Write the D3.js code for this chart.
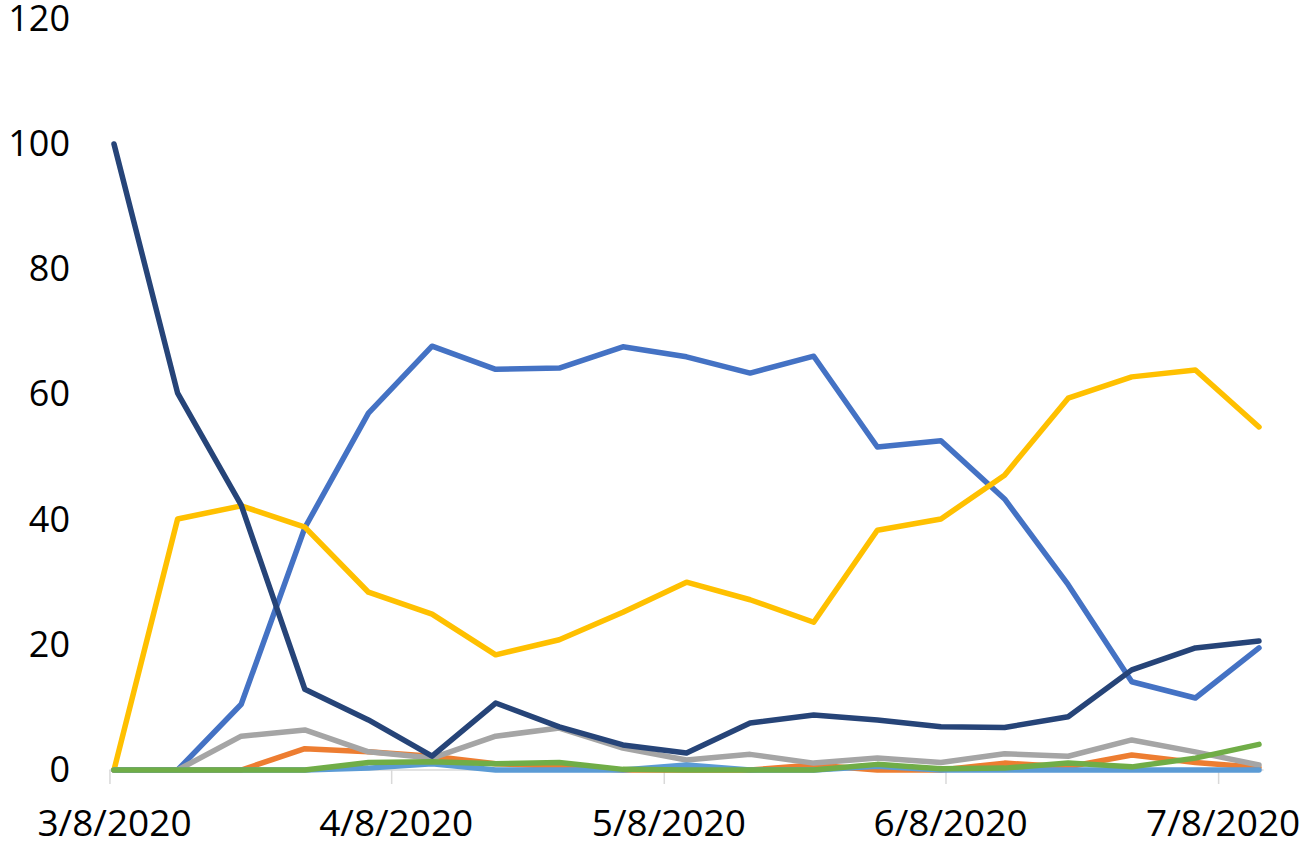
<!DOCTYPE html>
<html>
<head>
<meta charset="utf-8">
<script src="https://cdn.jsdelivr.net/npm/d3@7"></script>
<style>
  html, body { margin: 0; padding: 0; background: #fff; }
  svg { display: block; }
  text { font-family: "Open Sans", "Noto Sans", sans-serif; }
</style>
</head>
<body>
<svg id="chart" width="1307" height="851"></svg>
<script>
// ---- data ----
const dates = ["2020-03-08","2020-03-15","2020-03-22","2020-03-29","2020-04-05","2020-04-12","2020-04-19",
  "2020-04-26","2020-05-03","2020-05-10","2020-05-17","2020-05-24","2020-05-31","2020-06-07",
  "2020-06-14","2020-06-21","2020-06-28","2020-07-05","2020-07-12"];
const seriesBlue      = [0, 0, 10.5, 38.7, 57.0, 67.7, 64.0, 64.2, 67.6, 66.0, 63.4, 66.1, 51.6, 52.6, 43.3, 29.6, 14.1, 11.5, 19.5];
const seriesOrange    = [0, 0, 0, 3.4, 2.9, 2.2, 1.0, 0.6, 0, 0, 0, 0.8, 0, 0, 1.1, 0.5, 2.4, 1.2, 0.4];
const seriesGray      = [0, 0, 5.4, 6.4, 2.9, 1.9, 5.4, 6.7, 3.5, 1.6, 2.5, 1.1, 1.9, 1.2, 2.6, 2.2, 4.8, 2.9, 0.8];
const seriesYellow    = [0, 40.1, 42.2, 38.8, 28.4, 24.9, 18.4, 20.8, 25.2, 30.0, 27.2, 23.6, 38.3, 40.1, 47.1, 59.4, 62.8, 63.9, 54.8];
const seriesLightBlue = [0, 0, 0, 0, 0.3, 1.0, 0, 0, 0, 0.8, 0, 0, 0.6, 0, 0, 0, 0, 0, 0];
const seriesGreen     = [0, 0, 0, 0, 1.2, 1.3, 1.0, 1.2, 0.1, 0, 0, 0, 0.9, 0.2, 0.3, 1.1, 0.5, 1.9, 4.1];
const seriesNavy      = [100, 60.2, 42.3, 12.9, 8.0, 2.2, 10.7, 6.9, 4.0, 2.7, 7.5, 8.8, 8.0, 6.9, 6.8, 8.5, 16.0, 19.5, 20.6];
const yTicks = [0, 20, 40, 60, 80, 100, 120];
const xTickDates = ["2020-03-08","2020-04-08","2020-05-08","2020-06-08","2020-07-08"];

const seriesList = [
  { values: seriesBlue,      color: "#4472C4" },
  { values: seriesOrange,    color: "#ED7D31" },
  { values: seriesGray,      color: "#A5A5A5" },
  { values: seriesYellow,    color: "#FFC000" },
  { values: seriesLightBlue, color: "#5B9BD5" },
  { values: seriesGreen,     color: "#70AD47" },
  { values: seriesNavy,      color: "#264478" }
];

// ---- layout ----
const parse = d3.utcParse("%Y-%m-%d");
const dateObjs = dates.map(parse);
const svg = d3.select("#chart");

const x = d3.scaleUtc()
  .domain([dateObjs[0], dateObjs[dateObjs.length - 1]])
  .range([114, 1259]);
const y = d3.scaleLinear().domain([0, 120]).range([770, 18.8]);
const halfDay = (x(d3.utcDay.offset(dateObjs[0], 1)) - x(dateObjs[0])) / 2;

// x axis line
svg.append("line")
  .attr("x1", x(dateObjs[0]) - halfDay)
  .attr("x2", x(dateObjs[dateObjs.length - 1]) + halfDay)
  .attr("y1", y(0)).attr("y2", y(0))
  .attr("stroke", "#D9D9D9").attr("stroke-width", 1.5);

const fmt = d => (d.getUTCMonth() + 1) + "/" + d.getUTCDate() + "/" + d.getUTCFullYear();
const xAxis = svg.append("g")
  .attr("transform", `translate(0,${y(0)})`)
  .call(d3.axisBottom(x).tickValues(xTickDates.map(parse)).tickFormat(fmt).tickSize(14).tickPadding(26));
xAxis.select(".domain").remove();
xAxis.selectAll(".tick line")
  .attr("x1", -halfDay).attr("x2", -halfDay)
  .attr("stroke", "#D9D9D9").attr("stroke-width", 1.5);
xAxis.selectAll(".tick text")
  .attr("font-size", 37).attr("fill", "#000")
  .attr("font-family", "'Open Sans', 'Noto Sans', sans-serif");

const yAxis = svg.append("g")
  .attr("transform", "translate(70,0)")
  .call(d3.axisLeft(y).tickValues(yTicks).tickSize(0).tickPadding(0));
yAxis.select(".domain").remove();
yAxis.selectAll(".tick text")
  .attr("font-size", 36).attr("fill", "#000")
  .attr("font-family", "'Open Sans', 'Noto Sans', sans-serif");

// lines
const line = d3.line()
  .x((d, i) => x(dateObjs[i]))
  .y(d => y(d));

svg.append("g").selectAll("path")
  .data(seriesList)
  .join("path")
  .attr("d", s => line(s.values))
  .attr("fill", "none")
  .attr("stroke", s => s.color)
  .attr("stroke-width", 5.5)
  .attr("stroke-linejoin", "round")
  .attr("stroke-linecap", "round");
</script>
</body>
</html>
